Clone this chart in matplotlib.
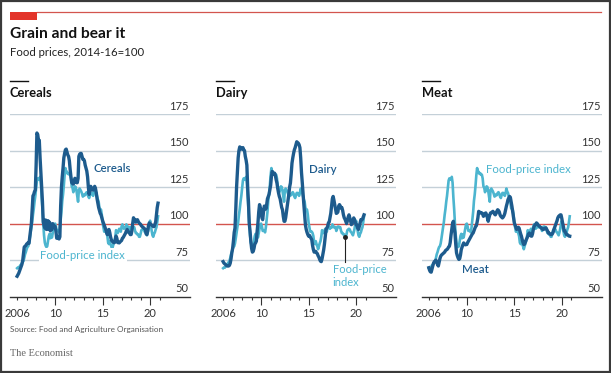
import numpy as np
import matplotlib
matplotlib.use("Agg")
import matplotlib.pyplot as plt
from matplotlib.patches import Rectangle
from matplotlib.lines import Line2D

# ---------------- data (monthly, Jan 2006 - Nov 2020, 2014-16=100) ----------------
start_year = 2006

ffpi = [
    69.5, 70.0, 69.8, 70.5, 71.5, 72.0, 72.8, 73.5, 74.5, 76.5, 79.0, 80.5,   # 2006
    82.5, 84.0, 84.5, 86.5, 90.0, 94.0, 97.5, 101.0, 106.0, 110.0, 115.0, 119.0,  # 2007
    124.0, 129.5, 131.0, 130.0, 130.5, 132.0, 128.0, 118.0, 110.0, 100.0, 92.0, 87.0,  # 2008
    85.0, 84.0, 84.5, 88.0, 91.5, 93.0, 90.0, 92.5, 90.5, 93.5, 96.5, 99.5,   # 2009
    100.0, 98.0, 95.0, 95.5, 95.0, 94.0, 97.5, 102.5, 108.0, 115.5, 120.0, 126.0,  # 2010
    133.0, 138.0, 135.0, 135.5, 134.0, 134.5, 133.5, 133.5, 131.0, 125.5, 124.5, 121.5,  # 2011
    123.0, 125.5, 125.0, 122.5, 118.5, 115.0, 123.0, 124.0, 123.0, 122.0, 120.5, 118.5,  # 2012
    119.0, 120.0, 119.5, 121.0, 121.5, 120.5, 118.5, 117.5, 119.5, 121.0, 121.0, 120.0,  # 2013
    119.0, 121.0, 124.0, 122.0, 121.0, 118.5, 116.5, 115.0, 110.5, 110.0, 109.5, 106.0,  # 2014
    100.5, 97.5, 94.5, 94.5, 94.5, 93.5, 91.5, 87.0, 86.0, 88.0, 86.0, 84.5,  # 2015
    82.5, 84.5, 86.5, 88.0, 91.0, 95.5, 94.0, 93.5, 95.0, 96.5, 95.0, 94.5,   # 2016
    98.0, 99.5, 97.0, 96.5, 97.5, 97.5, 99.5, 97.5, 98.0, 97.5, 97.5, 95.0,   # 2017
    96.5, 98.0, 98.0, 97.5, 97.5, 95.0, 93.5, 93.5, 92.5, 92.5, 91.0, 91.0,   # 2018
    93.0, 95.5, 96.0, 96.5, 96.0, 94.5, 94.0, 93.0, 92.0, 94.0, 96.5, 100.0,  # 2019
    102.0, 99.0, 95.0, 92.0, 91.0, 93.0, 94.0, 96.0, 97.5, 101.0, 105.0,      # 2020
]

cereals = [
    64.0, 65.0, 66.0, 67.5, 69.0, 70.5, 72.0, 74.5, 79.0, 84.0, 84.5, 85.0,
    86.0, 86.5, 87.0, 86.5, 91.0, 96.0, 100.0, 110.0, 119.0, 120.0, 122.0, 123.0,
    140.0, 162.0, 161.0, 157.0, 157.0, 145.0, 135.0, 125.0, 115.0, 101.0, 99.0, 97.0,
    102.5, 96.0, 98.0, 102.0, 96.0, 101.0, 95.0, 98.0, 96.0, 100.0, 98.0, 98.5,
    98.0, 95.0, 90.0, 91.0, 90.0, 89.5, 91.0, 112.0, 125.0, 132.0, 138.0, 145.0,
    148.0, 150.5, 151.0, 149.0, 147.0, 146.0, 143.0, 137.0, 132.0, 128.0, 127.5, 127.0,
    129.0, 131.0, 130.0, 128.0, 128.0, 131.0, 146.0, 147.5, 148.0, 148.0, 146.0, 144.0,
    144.0, 143.0, 140.0, 138.0, 136.0, 132.0, 125.0, 120.0, 123.0, 125.5, 124.0, 123.0,
    123.0, 124.0, 125.5, 124.0, 121.0, 117.0, 114.0, 111.0, 109.0, 107.0, 106.0, 104.0,
    102.0, 100.5, 99.0, 97.5, 96.0, 94.0, 92.5, 95.0, 96.0, 94.0, 91.0, 89.0,
    88.0, 87.5, 87.0, 87.0, 89.0, 91.5, 90.0, 87.0, 87.0, 86.8, 87.5, 88.0,
    88.5, 90.0, 90.5, 91.5, 92.5, 93.5, 95.0, 96.0, 95.0, 94.0, 93.5, 92.5,
    92.5, 95.0, 100.0, 104.0, 103.0, 101.5, 101.0, 102.5, 102.7, 101.5, 100.5, 100.0,
    99.5, 98.5, 98.0, 97.5, 97.0, 96.5, 96.0, 93.0, 92.5, 95.0, 99.0, 100.5,
    100.0, 99.5, 99.0, 98.5, 98.0, 98.0, 99.5, 101.0, 106.0, 111.0, 114.0,
]

dairy = [
    74.0, 73.0, 72.5, 72.0, 71.5, 71.0, 71.0, 71.0, 71.5, 73.0, 76.0, 80.0,
    83.0, 88.0, 94.0, 97.0, 110.0, 125.0, 135.0, 145.0, 150.0, 152.5, 152.0, 151.0,
    151.0, 152.0, 150.5, 150.0, 146.0, 143.5, 140.0, 125.0, 115.0, 100.0, 95.0, 88.0,
    83.0, 80.5, 81.0, 83.0, 86.0, 86.8, 88.0, 95.0, 100.5, 108.0, 113.0, 111.0,
    109.5, 104.0, 102.7, 108.0, 112.0, 111.8, 110.0, 113.0, 117.0, 118.6, 120.0, 123.0,
    126.0, 132.0, 135.7, 134.5, 134.0, 134.5, 133.0, 130.0, 127.7, 124.0, 121.0, 118.6,
    117.0, 114.0, 111.0, 109.5, 105.0, 101.6, 101.6, 104.0, 108.0, 111.8, 116.0, 120.0,
    125.0, 127.7, 134.0, 141.4, 145.0, 148.0, 150.5, 152.0, 154.0, 156.0, 155.5, 155.0,
    154.0, 152.0, 145.0, 135.0, 128.0, 120.0, 113.0, 106.0, 99.0, 96.0, 94.0, 92.5,
    91.4, 92.0, 91.0, 90.0, 89.0, 85.0, 82.3, 80.5, 81.0, 81.0, 80.0, 79.5,
    78.0, 77.0, 75.5, 74.3, 74.0, 76.0, 79.0, 82.0, 86.0, 91.0, 96.0, 97.0,
    98.0, 100.5, 101.0, 104.0, 107.0, 112.0, 117.0, 118.6, 116.0, 113.0, 110.0, 107.0,
    107.3, 108.0, 112.0, 113.0, 112.0, 110.7, 111.0, 109.0, 106.0, 104.0, 103.0, 101.6,
    100.0, 102.0, 104.5, 106.0, 104.0, 102.0, 99.3, 100.0, 102.0, 103.9, 102.5, 101.0,
    99.3, 99.0, 97.0, 96.0, 98.0, 100.5, 102.7, 102.5, 103.0, 104.5, 106.0,
]

meat = [
    69.8, 68.0, 67.0, 66.8, 69.0, 71.0, 73.0, 74.0, 74.5, 75.0, 73.5, 72.0,
    71.0, 73.5, 76.0, 77.7, 78.5, 79.0, 79.5, 80.0, 80.5, 81.5, 82.0, 82.3,
    83.0, 84.0, 84.5, 87.0, 92.0, 96.0, 100.0, 101.6, 97.0, 93.6, 86.0, 80.0,
    78.0, 76.5, 75.5, 76.0, 78.5, 82.3, 84.0, 85.5, 86.8, 86.0, 85.5, 85.7,
    85.7, 87.0, 88.0, 89.0, 90.0, 91.0, 92.0, 93.0, 93.6, 95.0, 96.5, 98.0,
    98.5, 101.0, 104.0, 108.4, 108.0, 107.3, 107.5, 107.3, 106.5, 105.0, 106.0, 107.0,
    107.3, 106.0, 104.0, 101.6, 104.0, 106.0, 107.3, 107.5, 108.0, 108.4, 107.5, 106.5,
    106.0, 107.0, 108.5, 109.5, 109.0, 108.0, 106.0, 105.0, 104.5, 103.9, 104.5, 105.5,
    107.0, 109.5, 112.0, 114.0, 116.4, 117.5, 118.6, 118.0, 115.0, 111.8, 108.0, 104.0,
    100.5, 99.0, 97.5, 96.0, 97.0, 97.5, 97.0, 95.0, 93.0, 91.4, 89.0, 87.0,
    85.7, 86.0, 87.5, 89.0, 90.0, 91.5, 93.0, 93.6, 92.5, 91.5, 91.4, 93.0,
    96.0, 98.0, 99.0, 99.5, 100.5, 100.0, 99.0, 98.5, 98.0, 97.5, 97.0, 96.5,
    96.0, 96.0, 96.5, 97.0, 97.0, 96.0, 95.0, 93.6, 93.5, 93.0, 92.5, 92.5,
    93.0, 94.0, 96.0, 97.5, 99.0, 100.5, 102.0, 104.0, 105.0, 105.5, 106.0, 106.0,
    103.5, 100.5, 98.0, 95.0, 94.8, 93.5, 92.5, 92.5, 92.0, 91.5, 91.4,
]

panel_titles = ["Cereals", "Dairy", "Meat"]
panel_series = [cereals, dairy, meat]
y_ticks = [50, 75, 100, 125, 150, 175]
x_label_years = [2006, 2010, 2015, 2020]
x_labels = ["2006", "10", "15", "20"]

# ---------------- style ----------------
DARK = "#1d5b8d"
LIGHT = "#4cb5cf"
GRID = "#c4d0d8"
RED = "#d3544e"
TXT = "#222222"
FONT = ["Lato", "DejaVu Sans"]
plt.rcParams["font.family"] = FONT

W, H = 611, 373
fig = plt.figure(figsize=(W / 100, H / 100), dpi=100)

def fx(px):
    return px / W

def fy(py):
    return 1 - py / H

# border
fig.patches.append(Rectangle((0.001, 0.002), 0.997, 0.996, transform=fig.transFigure,
                             fill=False, edgecolor="#3a3a3a", linewidth=1.6, zorder=10))
# red top rule and tag
fig.add_artist(Line2D([fx(37), fx(600.7)], [fy(12), fy(12)], color=RED, linewidth=0.9))
fig.patches.append(Rectangle((fx(10), fy(19.5)), fx(27), 7.5 / H, transform=fig.transFigure,
                             facecolor="#e3342a", edgecolor="none"))

fig.text(fx(10), fy(38.3), "Grain and bear it", fontsize=11.2, fontweight="bold",
         color="#111111", va="baseline", ha="left")
fig.text(fx(10), fy(56), "Food prices, 2014-16=100", fontsize=8.2,
         color=TXT, va="baseline", ha="left")

x = start_year + np.arange(len(ffpi)) / 12.0

lefts = [10, 216, 421.7]
ax_w = 180
bottom_px, top_px = 296.7, 114
axes = []
for i, (title, series) in enumerate(zip(panel_titles, panel_series)):
    l = lefts[i]
    ax = fig.add_axes([fx(l), fy(bottom_px), fx(ax_w), (bottom_px - top_px) / H])
    axes.append(ax)
    ax.set_xlim(2005.25, 2024.2)
    ax.set_ylim(50, 175)
    for s in ["top", "right", "left"]:
        ax.spines[s].set_visible(False)
    ax.spines["bottom"].set_color("#333333")
    ax.spines["bottom"].set_linewidth(1.0)
    ax.set_yticks([])
    for v in y_ticks[1:]:
        ax.axhline(v, color=RED if v == 100 else GRID, linewidth=1.0, zorder=1)
    for v in y_ticks:
        ax.annotate(str(v), xy=(1, v), xycoords=("axes fraction", "data"),
                    xytext=(-1, 1.8), textcoords="offset points",
                    ha="right", va="bottom", fontsize=8, color="#333333", zorder=7)
    # x ticks
    ax.set_xticks(x_label_years)
    ax.set_xticklabels(x_labels, fontsize=8, color="#333333")
    ax.set_xticks(np.arange(2006, 2022), minor=True)
    ax.tick_params(axis="x", which="major", length=5.5, width=0.8, color="#333333", pad=2.5)
    ax.tick_params(axis="x", which="minor", length=2.5, width=0.8, color="#333333")
    ax.xaxis.get_major_ticks()[0].tick1line.set_markersize(2.5)

    ax.plot(x, ffpi, color=LIGHT, linewidth=1.9, zorder=3, solid_joinstyle="round")
    ax.plot(x, series, color=DARK, linewidth=2.4, zorder=4, solid_joinstyle="round")

    # panel header
    fig.add_artist(Line2D([fx(l), fx(l + 18)], [fy(81), fy(81)], color="#111111", linewidth=1.0))
    fig.text(fx(l), fy(96.7), title, fontsize=9.3, fontweight="bold", color="#111111",
             va="baseline", ha="left")

LBL = 8.2
bbox_w = dict(facecolor="white", edgecolor="none", pad=1.0)
# Cereals labels
axes[0].text(2014.0, 137.5, "Cereals", color=DARK, fontsize=LBL, fontweight="semibold",
             ha="left", va="center")
axes[0].text(2008.45, 78.4, "Food-price index", color=LIGHT, fontsize=LBL,
             ha="left", va="center", bbox=bbox_w, zorder=5)
# Dairy labels
axes[1].text(2015.06, 136.8, "Dairy", color=DARK, fontsize=LBL, fontweight="semibold",
             ha="left", va="center")
idx = (2018 - start_year) * 12 + 10
axes[1].plot([x[idx], x[idx]], [ffpi[idx], 73.4], color="#222222", linewidth=0.8, zorder=6)
axes[1].plot([x[idx]], [ffpi[idx]], marker="o", markersize=2.5, color="#222222", zorder=6)
axes[1].text(2017.53, 68.9, "Food-price", color=LIGHT, fontsize=8.0,
             ha="left", va="center", zorder=5)
axes[1].text(2017.53, 59.6, "index", color=LIGHT, fontsize=8.0,
             ha="left", va="center", zorder=5)
# Meat labels
axes[2].text(2012.06, 137.3, "Food-price index", color=LIGHT, fontsize=LBL,
             ha="left", va="center")
axes[2].text(2009.5, 68.6, "Meat", color=DARK, fontsize=LBL, fontweight="semibold",
             ha="left", va="center")

fig.text(fx(10), fy(332), "Source: Food and Agriculture Organisation", fontsize=5.9,
         color="#555555", va="baseline", ha="left")
fig.text(fx(10), fy(356), "The Economist", fontsize=7.5, color="#666666",
         family=["Liberation Serif", "DejaVu Serif"], va="baseline", ha="left")

fig.savefig("out.png", dpi=100)
